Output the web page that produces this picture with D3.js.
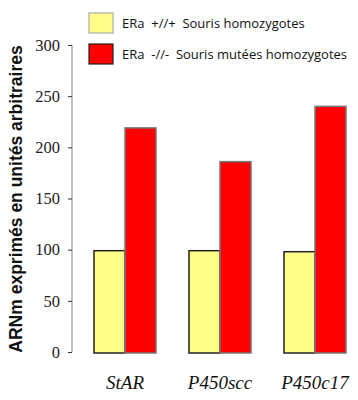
<!DOCTYPE html>
<html><head><meta charset="utf-8">
<script src="https://cdn.jsdelivr.net/npm/d3@7"></script>
<style>body{margin:0;background:#fff}svg{display:block}</style>
</head><body>
<svg id="c" width="358" height="400"></svg>
<script>
const categories = ["StAR", "P450scc", "P450c17"];
const seriesNames = ["ERa  +//+  Souris homozygotes", "ERa  -//-  Souris mutées homozygotes"];
const wildType = [99, 99, 98];
const mutant = [219, 186, 240];
const yTicks = [0, 50, 100, 150, 200, 250, 300];
const yLabel = "ARNm exprimés en unités arbitraires";

const colors = ["#FFFF88", "#FF0000"];
const strokes = ["#222", "#777"];
const svg = d3.select("#c");
const y = d3.scaleLinear().domain([0, 300]).range([352, 45]);
const x = d3.scaleBand().domain(categories).range([77.5, 362.5]).paddingInner(0.347).paddingOuter(0.1735);
const xs = d3.scaleBand().domain([0, 1]).range([0, x.bandwidth()]);
const series = [wildType, mutant];

// axis
const ax = svg.append("g").attr("transform", "translate(72,0)")
  .call(d3.axisLeft(y).tickValues(yTicks).tickSize(4).tickPadding(8));
ax.select(".domain").attr("stroke", "#888").attr("d", "M0," + y(300) + "V" + y(0));
ax.selectAll(".tick line").attr("stroke", "#333");
ax.selectAll(".tick text").attr("font-family", "Liberation Serif, Times New Roman, serif").attr("font-size", 16.5).attr("fill", "#222");

// bars
series.forEach((vals, si) => {
  svg.append("g").selectAll("rect").data(vals).join("rect")
    .attr("x", (d, i) => x(categories[i]) + xs(si))
    .attr("width", xs.bandwidth())
    .attr("y", d => y(d))
    .attr("height", d => y(0) - y(d) + 1)
    .attr("fill", colors[si])
    .attr("stroke", strokes[si])
    .attr("stroke-width", 1.5);
});

// x labels
svg.append("g").selectAll("text").data(categories).join("text")
  .attr("x", d => x(d) + x.bandwidth() / 2)
  .attr("y", 389)
  .attr("text-anchor", "middle")
  .attr("font-family", "Liberation Serif, Times New Roman, serif")
  .attr("font-style", "italic")
  .attr("font-size", 19)
  .attr("fill", "#111")
  .text(d => d);

// y label
svg.append("text")
  .attr("transform", "translate(22,199) rotate(-90)")
  .attr("text-anchor", "middle")
  .attr("font-family", "Liberation Sans, Arial, sans-serif")
  .attr("font-weight", "bold")
  .attr("font-size", 17.5)
  .attr("fill", "#111")
  .text(yLabel);

// legend
const lg = svg.append("g");
seriesNames.forEach((s, i) => {
  lg.append("rect").attr("x", 89).attr("y", 13 + i * 31).attr("width", 24).attr("height", 20)
    .attr("fill", colors[i]).attr("stroke", i === 0 ? "#aaa" : "#222").attr("stroke-width", 1.2);
  lg.append("text").attr("x", 122).attr("y", 28 + i * 31)
    .attr("font-family", "Open Sans, Liberation Sans, sans-serif")
    .attr("font-size", 13).attr("fill", "#111")
    .attr("xml:space", "preserve")
    .text(s);
});
</script>
</body></html>
